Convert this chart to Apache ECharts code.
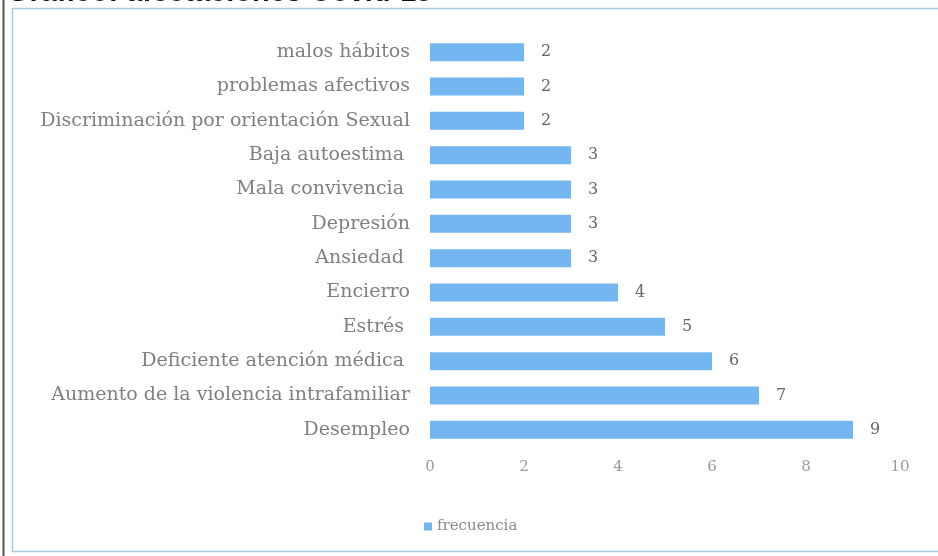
<!DOCTYPE html>
<html>
<head>
<meta charset="utf-8">
<script src="https://cdn.jsdelivr.net/npm/echarts@6/dist/echarts.min.js"></script>
<style>
html,body{margin:0;padding:0;background:#fff;}
#c{width:938px;height:556px;}
</style>
</head>
<body>
<div id="c"></div>
<script>
const categories = [
  "Desempleo",
  "Aumento de la violencia intrafamiliar",
  "Deficiente atención médica ",
  "Estrés ",
  "Encierro",
  "Ansiedad ",
  "Depresión",
  "Mala convivencia ",
  "Baja autoestima ",
  "Discriminación por orientación Sexual",
  "problemas afectivos",
  "malos hábitos"
];
const frecuencia = [9, 7, 6, 5, 4, 3, 3, 3, 3, 2, 2, 2];
const xTicks = [0, 2, 4, 6, 8, 10];
const titleText = "Gráfico: afectaciones Covid-19";

const chart = echarts.init(document.getElementById('c'), null, {renderer: 'canvas'});
const serif = '"DejaVu Serif", serif';
chart.setOption({
  backgroundColor: '#ffffff',
  animation: false,
  title: {
    text: titleText,
    left: 2,
    top: -27,
    textStyle: {fontFamily: '"Liberation Sans", Arial, sans-serif', fontWeight: 'bold', fontSize: 29, color: '#111'}
  },
  graphic: [
    {type: 'line', shape: {x1: 3.5, y1: 0, x2: 3.5, y2: 556}, style: {stroke: '#555', lineWidth: 2}},
    {type: 'rect', shape: {x: 12.5, y: 8.5, width: 940, height: 543}, style: {fill: 'none', stroke: '#a9cbe3', lineWidth: 1.5}}
  ],
  legend: {
    data: ['frecuencia'],
    left: 419,
    top: 514,
    itemWidth: 8,
    itemHeight: 8,
    itemGap: 4,
    icon: 'rect',
    textStyle: {fontFamily: serif, fontSize: 15, color: '#8a8a8a'}
  },
  grid: {left: 430, right: 38, top: 35, bottom: 109, containLabel: false},
  xAxis: {
    type: 'value',
    min: 0,
    max: 10,
    interval: 2,
    axisLine: {show: false},
    axisTick: {show: false},
    splitLine: {show: false},
    axisLabel: {
      margin: 13,
      fontFamily: serif, fontSize: 15, color: '#9a9a9a',
      formatter: v => xTicks.includes(v) ? String(v) : ''
    }
  },
  yAxis: {
    type: 'category',
    data: categories,
    axisLine: {show: false},
    axisTick: {show: false},
    axisLabel: {margin: 20, fontFamily: serif, fontSize: 19, color: '#808080'}
  },
  series: [{
    name: 'frecuencia',
    type: 'bar',
    data: frecuencia,
    barWidth: 18,
    itemStyle: {color: '#74b6ef'},
    label: {show: true, position: 'right', distance: 17, fontFamily: serif, fontSize: 16, color: '#666'}
  }]
});
</script>
</body>
</html>
